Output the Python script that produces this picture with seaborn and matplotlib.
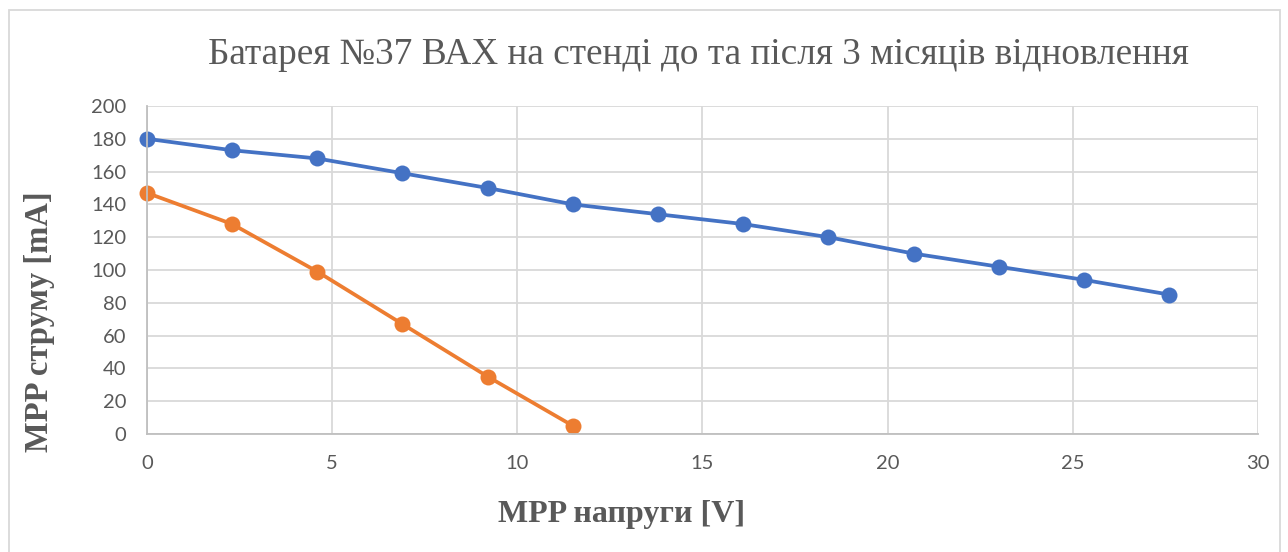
import numpy as np
import pandas as pd
import matplotlib
matplotlib.use('Agg')
import matplotlib.pyplot as plt
import seaborn as sns

# дані з графіка
voltage_before = [0, 2.3, 4.6, 6.9, 9.2, 11.5, 13.8, 16.1, 18.4, 20.7, 23.0, 25.3, 27.6]
current_before = [180, 173, 168, 159, 150, 140, 134, 128, 120, 110, 102, 94, 85]
voltage_after = [0, 2.3, 4.6, 6.9, 9.2, 11.5]
current_after = [147, 128, 99, 67, 35, 5]
series_names = ['до', 'після']
x_ticks = [0, 5, 10, 15, 20, 25, 30]
y_ticks = [0, 20, 40, 60, 80, 100, 120, 140, 160, 180, 200]

df = pd.concat([
    pd.DataFrame({'V': voltage_before, 'I': current_before, 's': series_names[0]}),
    pd.DataFrame({'V': voltage_after, 'I': current_after, 's': series_names[1]}),
])

sns.set_style('white')
plt.rcParams['font.family'] = ['Lato', 'DejaVu Sans']

fig = plt.figure(figsize=(12.88, 5.52), dpi=100)
ax = fig.add_axes([0.1141, 0.2138, 0.8626, 0.5942])

sns.lineplot(data=df, x='V', y='I', hue='s', palette=['#4472C4', '#ED7D31'],
             marker='o', markersize=11.5, markeredgewidth=0, linewidth=2.7,
             legend=False, ax=ax, sort=False, clip_on=False)

ax.set_xlim(0, 30)
ax.set_ylim(0, 200)
ax.set_xticks(x_ticks)
ax.set_yticks(y_ticks)
ax.grid(True, color='#d9d9d9', linewidth=1.3)
ax.set_axisbelow(True)
for side in ['top', 'right']:
    ax.spines[side].set_visible(False)
for side in ['left', 'bottom']:
    ax.spines[side].set_color('#bfbfbf')
    ax.spines[side].set_linewidth(1.3)
ax.tick_params(length=0, labelsize=14.5, labelcolor='#595959', pad=15)

ax.set_xlabel('MPP напруги [V]', fontsize=23, fontweight='bold', color='#595959',
              family=['Liberation Serif'], va='center')
ax.set_ylabel('MPP струму [mA]', fontsize=23.5, fontweight='bold', color='#595959',
              family=['Liberation Serif'], va='center')
ax.xaxis.set_label_coords(0.4275, -0.247)
ax.yaxis.set_label_coords(-0.0963, 0.341)
fig.text(0.5423, 0.901, 'Батарея №37 ВАХ на стенді до та після 3 місяців відновлення',
         ha='center', va='center', fontsize=26.8, color='#595959', family=['Liberation Serif'])

# рамка навколо діаграми
fig.patches.append(plt.Rectangle((0.007, -0.01), 0.987, 0.992, transform=fig.transFigure,
                                 fill=False, edgecolor='#d9d9d9', linewidth=1.3))

fig.savefig('out.png', dpi=100)
